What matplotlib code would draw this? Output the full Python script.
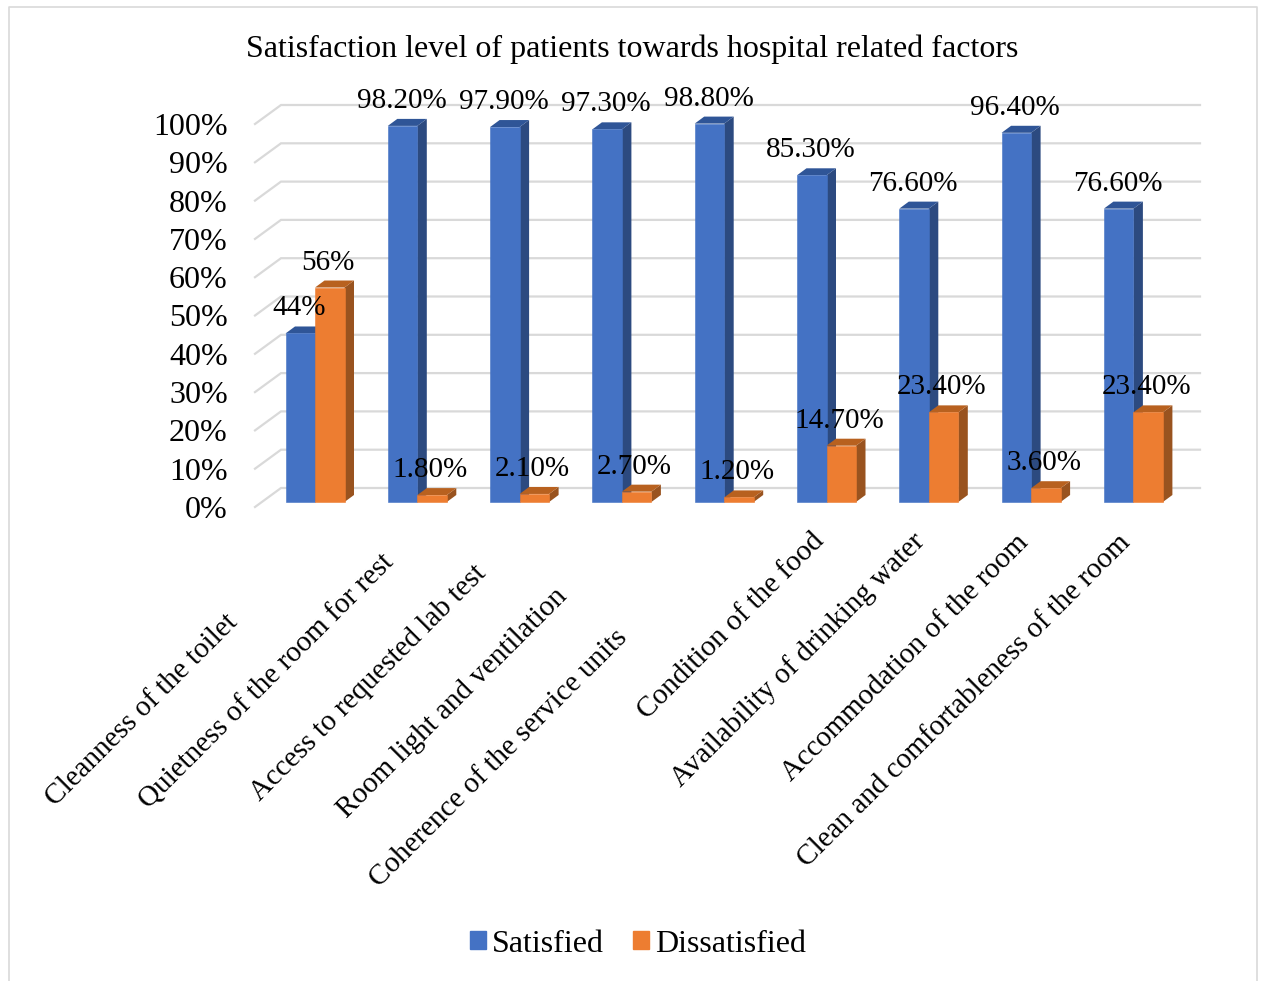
import matplotlib
matplotlib.use("Agg")
import matplotlib.pyplot as plt
import numpy as np
from matplotlib.lines import Line2D
from matplotlib.patches import Patch

categories = ["Cleanness of the toilet", "Quietness of the room for rest",
              "Access to requested lab test", "Room light and ventilation",
              "Coherence of the service units", "Condition of the food",
              "Availability of drinking water", "Accommodation of the room",
              "Clean and comfortableness of the room"]
satisfied = [44, 98.2, 97.9, 97.3, 98.8, 85.3, 76.6, 96.4, 76.6]
dissatisfied = [56, 1.8, 2.1, 2.7, 1.2, 14.7, 23.4, 3.6, 23.4]
sat_labels = ["44%", "98.20%", "97.90%", "97.30%", "98.80%", "85.30%", "76.60%", "96.40%", "76.60%"]
dis_labels = ["56%", "1.80%", "2.10%", "2.70%", "1.20%", "14.70%", "23.40%", "3.60%", "23.40%"]
yticks = list(range(0, 101, 10))

plt.rcParams['font.family'] = ['Liberation Serif', 'DejaVu Serif']

W, H = 1261, 981
PX_X = 102.3   # pixels per category
PX_Y = 3.83    # pixels per percent
X0, Y0 = 315, 502  # pixel of category 0 / of 0%
LEFT = 232

fig = plt.figure(figsize=(W / 100, H / 100), dpi=100, facecolor="white")
ax = fig.add_axes([LEFT / W, 0, (W - LEFT) / W, 1])
ax.set_xlim((LEFT - X0) / PX_X, (W - X0) / PX_X)
ax.set_ylim(-(H - Y0) / PX_Y, Y0 / PX_Y)
ax.patch.set_alpha(0)
for s in ax.spines.values():
    s.set_visible(False)

# wall grid, depth offsets in data units
wall_dy = 14 / PX_Y
back_x = (281 - X0) / PX_X
side_x = (255 - X0) / PX_X
end_x = (1200 - X0) / PX_X
drop = 5 / PX_Y
for v in yticks:
    ax.plot([side_x, back_x, end_x], [v - drop, v + wall_dy, v + wall_dy],
            color="#D9D9D9", lw=1.6, zorder=1, solid_joinstyle="miter")

ax.set_yticks([v - drop for v in yticks])
ax.set_yticklabels([f"{v}%" for v in yticks], fontsize=23)
ax.tick_params(axis="y", length=0, pad=3)
ax.set_xticks([])

bw = 29.5 / PX_X
dx, dy = 9.5 / PX_X, 7 / PX_Y
x = np.arange(len(categories))


def bar3d(xs, vals, front, side, top, z):
    ax.bar(xs, vals, bw, align="edge", color=front, edgecolor=front, lw=0.4, zorder=z)
    for a, v in zip(xs, vals):
        ax.fill([a + bw, a + bw + dx, a + bw + dx, a + bw], [0, dy, v + dy, v],
                color=side, lw=0, zorder=z - 0.1)
        ax.fill([a, a + dx, a + bw + dx, a + bw], [v, v + dy, v + dy, v],
                color=top, lw=0, zorder=z - 0.1)


bar3d(x - bw, satisfied, "#4472C4", "#2C4A80", "#2F5597", 3)
bar3d(x, dissatisfied, "#ED7D31", "#99531F", "#B8611F", 3.3)

# data labels sit a fixed distance above the front top edge
lift = 25 / PX_Y
for i in x:
    ax.text(i - bw / 2 - 1 / PX_X, satisfied[i] + lift, sat_labels[i], ha="center", va="center",
            fontsize=21, color="black", zorder=6)
    ax.text(i + bw / 2 - 2 / PX_X, dissatisfied[i] + lift, dis_labels[i], ha="center", va="center",
            fontsize=21, color="black", zorder=6)

# category labels, top right end of each rotated string
label_ends = [(224, 609), (381, 550), (473, 560), (554, 583), (614, 625),
              (811, 528), (911, 528), (1015, 530), (1117, 530)]
for name, (px, py) in zip(categories, label_ends):
    ax.text((px - X0) / PX_X, (Y0 - py) / PX_Y, name, rotation=45, ha="right", va="top",
            rotation_mode="anchor", fontsize=21, color="black", zorder=6)

fig.text(632.5 / W, 1 - 49 / H, "Satisfaction level of patients towards hospital related factors",
         ha="center", va="center", fontsize=23, color="black")

handles = [Patch(color="#4472C4", label="Satisfied"), Patch(color="#ED7D31", label="Dissatisfied")]
fig.legend(handles=handles, loc="center", bbox_to_anchor=(638 / W, 1 - 944 / H), ncol=2, frameon=False,
           fontsize=23, handlelength=0.5, handleheight=0.5, handletextpad=0.2, columnspacing=0.9,
           borderpad=0)

# chart frame, the bottom edge is cut off in the source image
fx = [9 / W, 9 / W, 1257 / W, 1257 / W]
fy = [0, 1 - 7 / H, 1 - 7 / H, 0]
fig.add_artist(Line2D(fx, fy, color="#D9D9D9", lw=1.2))

fig.savefig("out.png", dpi=100)
